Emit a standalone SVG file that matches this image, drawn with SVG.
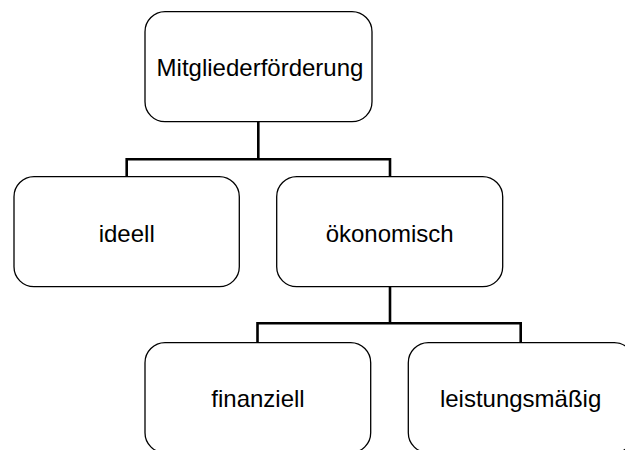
<svg xmlns="http://www.w3.org/2000/svg" width="625" height="450" viewBox="0 0 625 450">
<style>
.box{fill:#fff;stroke:#000;stroke-width:1.3}
.lbl{font-family:"Liberation Sans",Arial,sans-serif;font-size:24px;fill:#000;text-anchor:middle}
.con{fill:none;stroke:#000;stroke-width:2.6}
</style>
<rect width="625" height="450" fill="#fff"/>
<g id="connectors">
<path class="con" d="M258.3,122 V159.3 M126.7,176.7 V159.3 H390 V176.7"/>
<path class="con" d="M390,287 V323.3 M257.5,342.7 V323.3 H520.7 V342.7"/>
</g>
<g id="n-mitglieder">
<rect class="box" x="145" y="11.7" width="227" height="110" rx="20" ry="20"/>
<text class="lbl" x="260" y="76">Mitgliederförderung</text>
</g>
<g id="n-ideell">
<rect class="box" x="14" y="176.7" width="225.3" height="110" rx="20" ry="20"/>
<text class="lbl" x="126.7" y="241.7">ideell</text>
</g>
<g id="n-oekonomisch">
<rect class="box" x="276.7" y="176.7" width="226" height="110" rx="20" ry="20"/>
<text class="lbl" x="389.7" y="241.7">ökonomisch</text>
</g>
<g id="n-finanziell">
<rect class="box" x="145" y="342.7" width="225.7" height="110" rx="20" ry="20"/>
<text class="lbl" x="258" y="406.7">finanziell</text>
</g>
<g id="n-leistung">
<rect class="box" x="408.3" y="342.7" width="226" height="110" rx="20" ry="20"/>
<text class="lbl" x="520.6" y="406.7">leistungsmäßig</text>
</g>
</svg>
